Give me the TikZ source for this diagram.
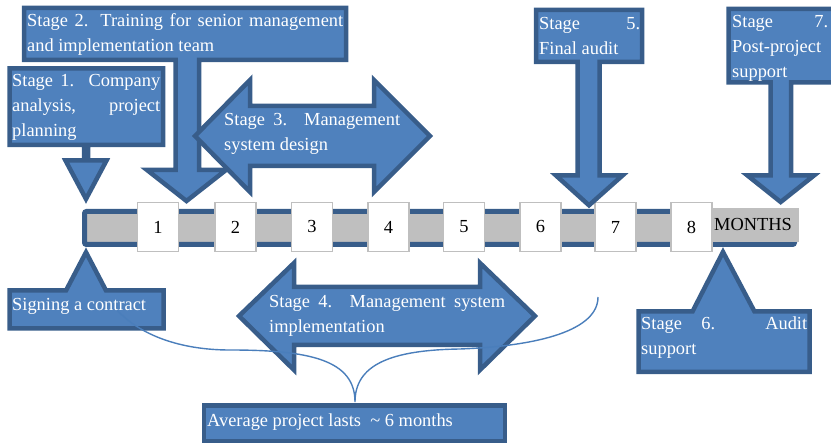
\documentclass[tikz,border=0pt]{standalone}
\usepackage{fontspec}
\setmainfont{Liberation Serif}

\definecolor{stagefill}{HTML}{4F81BD}
\definecolor{stageline}{HTML}{385D8A}
\definecolor{bargray}{HTML}{BFBFBF}
\definecolor{bracecol}{HTML}{4A7EBB}

% a block of lines whose baseline is the first line's baseline
\newcommand{\lineblock}[1]{\vtop{\baselineskip=25pt\lineskiplimit=-100pt #1}}
% a justified line of a given width
\newcommand{\jline}[2]{\hbox to #1{#2}}

\tikzset{
  callout/.style={fill=stagefill, draw=stageline, line width=4.5pt, line join=miter},
  stagetext/.style={anchor=base west, inner sep=0pt, text=white,
    font=\fontsize{18.4}{25}\selectfont},
  numbox/.style={draw=bargray, fill=white, line width=1.5pt, minimum width=41pt,
    minimum height=49pt, inner sep=0pt, font=\fontsize{18.4}{22}\selectfont},
  timebar/.style={draw=stageline, fill=bargray, line width=5pt, rounded corners=2pt,
    minimum width=710pt, minimum height=33pt, inner sep=0pt},
  bracepath/.style={draw=bracecol, line width=1.4pt},
}

\begin{document}
\begin{tikzpicture}[x=1pt,y=-1pt]
\useasboundingbox (0,0) rectangle (831,443);
\clip (0,0) rectangle (831,443);

% time axis
\node[timebar] (bar) at (439.5,228) {};
\node[fill=bargray, inner xsep=2pt, inner ysep=0pt, text width=83pt, align=left,
  minimum height=34pt, anchor=west, font=\fontsize{18.4}{22}\selectfont]
  (months) at (712,225) {MONTHS};
\foreach \i/\x in {1/158,2/235.5,3/312,4/388.5,5/464,6/540.5,7/615.5,8/691.5}{
  \node[numbox] (m\i) at (\x,227) {\i};
}

% stage 2: training
\draw[callout] (24,8) -- (346,8) -- (346,60) -- (199,60) -- (199,170) -- (226,170)
  -- (186.5,201) -- (147,170) -- (175.5,170) -- (175.5,60) -- (24,60) -- cycle;
\node[stagetext] (s2) at (27,27) {\lineblock{%
  \jline{316pt}{Stage 2. Training for senior management}%
  \hbox{and implementation team}}};

% stage 1: analysis
\draw[callout] (9.5,68.5) -- (163,68.5) -- (163,145) -- (88,145) -- (88,160.5)
  -- (106.5,160.5) -- (86,199) -- (65.5,160.5) -- (84,160.5) -- (84,145)
  -- (9.5,145) -- cycle;
\node[stagetext] (s1) at (12,87) {\lineblock{%
  \jline{148pt}{Stage 1. Company}%
  \jline{148pt}{analysis, project}%
  \hbox{planning}}};

% stage 3: design
\draw[callout] (195,136) -- (250,80) -- (250,106) -- (374,106) -- (374,80)
  -- (430,136) -- (374,192) -- (374,166) -- (250,166) -- (250,192) -- cycle;
\node[stagetext] (s3) at (224,126) {\lineblock{%
  \jline{176pt}{Stage 3. Management}%
  \hbox{system design}}};

% stage 5: final audit
\draw[callout] (536,10) -- (642,10) -- (642,62) -- (599.5,62) -- (599.5,175.5)
  -- (622.5,175.5) -- (589,205.3) -- (556,175.5) -- (577.5,175.5) -- (577.5,62)
  -- (536,62) -- cycle;
\node[stagetext] (s5) at (539,30) {\lineblock{%
  \jline{101pt}{Stage 5.}%
  \hbox{Final audit}}};

% stage 7: post-project support
\draw[callout] (728.5,9) -- (838,9) -- (838,82.5) -- (791,82.5) -- (791,175.5)
  -- (814,175.5) -- (780.7,202) -- (747.5,175.5) -- (770.5,175.5) -- (770.5,82.5)
  -- (728.5,82.5) -- cycle;
\node[stagetext] (s7) at (732,28) {\lineblock{%
  \jline{96pt}{Stage 7.}%
  \hbox{Post-project}%
  \hbox{support}}};

% contract signing
\draw[callout] (9.5,290.5) -- (66,290.5) -- (86,252.3) -- (106,290.5) -- (163.5,290.5)
  -- (163.5,328.5) -- (9.5,328.5) -- cycle;
\node[stagetext] (sc) at (12,311) {Signing a contract};

% stage 4: implementation
\draw[callout] (239,316) -- (294,263) -- (294,287) -- (480,287) -- (480,263)
  -- (535,316) -- (480,370) -- (480,345) -- (294,345) -- (294,370) -- cycle;
\node[stagetext] (s4) at (269,308) {\lineblock{%
  \jline{236pt}{Stage 4. Management system}%
  \hbox{implementation}}};

% stage 6: audit support
\draw[callout] (638.5,311.5) -- (692.5,311.5) -- (723,252) -- (754.5,311.5)
  -- (809.5,311.5) -- (809.5,372) -- (638.5,372) -- cycle;
\node[stagetext] (s6) at (641,330) {\lineblock{%
  \jline{166pt}{Stage 6. Audit}%
  \hbox{support}}};

% average duration
\draw[callout] (204,405.5) rectangle (505,441);
\node[stagetext] (avg) at (207,427) {Average project lasts\ \ \textasciitilde{} 6 months};

% brace spanning the project
\coordinate (braceL) at (117,310);
\coordinate (braceT) at (355,402);
\coordinate (braceR) at (598,297);
\draw[bracepath] (braceL) .. controls (140,335) and (180,350) .. (230,350)
  .. controls (310,350) and (355,360) .. (braceT)
  .. controls (355,365) and (390,350) .. (460,349)
  .. controls (540,346) and (598,330) .. (braceR);
\end{tikzpicture}
\end{document}
